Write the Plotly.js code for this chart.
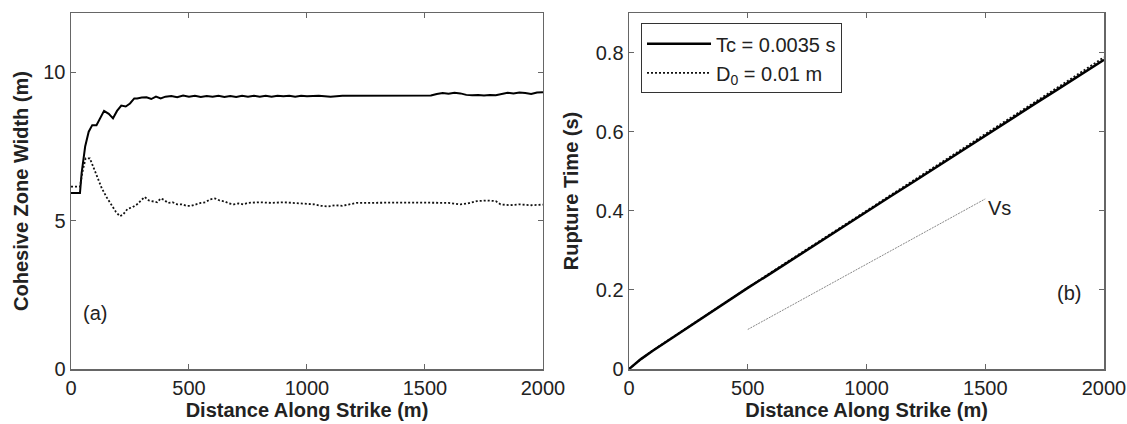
<!DOCTYPE html>
<html>
<head>
<meta charset="utf-8">
<script src="https://cdn.plot.ly/plotly-3.0.1.min.js"></script>
<style>html,body{margin:0;padding:0;background:#fff;}#chart{width:1127px;height:424px;}</style>
</head>
<body>
<div id="chart"></div>
<script>
// ---- Panel (a): cohesive zone width ----
const tcX = [0,38,45,60,75,90,108,125,140,160,178,195,213,232,250,268,280,300,320,340,360,380,400,425,450,475,500,525,550,575,600,625,650,675,700,725,750,775,800,825,850,875,900,925,950,975,1000,1050,1100,1150,1200,1250,1300,1350,1400,1450,1500,1525,1550,1575,1600,1625,1650,1675,1700,1725,1750,1775,1800,1825,1850,1875,1900,1925,1950,1975,2000];
const tcW = [5.93,5.93,6.6,7.5,8.0,8.22,8.22,8.5,8.7,8.6,8.45,8.7,8.88,8.85,8.95,9.12,9.12,9.15,9.16,9.1,9.18,9.12,9.18,9.2,9.16,9.22,9.18,9.21,9.17,9.2,9.18,9.21,9.17,9.2,9.17,9.21,9.18,9.21,9.18,9.21,9.18,9.21,9.19,9.21,9.18,9.21,9.19,9.21,9.18,9.21,9.21,9.21,9.21,9.21,9.21,9.21,9.21,9.22,9.27,9.3,9.28,9.31,9.29,9.24,9.23,9.24,9.22,9.24,9.23,9.28,9.31,9.29,9.32,9.3,9.27,9.32,9.33];

const d0X = [0,38,50,62,80,95,110,130,150,170,190,207,220,240,260,280,300,312,330,350,365,380,395,410,430,450,470,490,510,530,550,570,590,610,630,650,670,690,710,730,750,800,850,900,950,1000,1030,1060,1090,1120,1150,1180,1210,1250,1300,1350,1400,1450,1500,1550,1600,1650,1680,1720,1760,1800,1820,1860,1900,1950,2000];
const d0W = [6.15,6.15,6.7,7.1,7.1,6.8,6.5,6.1,5.8,5.55,5.3,5.15,5.2,5.4,5.45,5.55,5.7,5.8,5.68,5.65,5.62,5.75,5.7,5.6,5.62,5.55,5.55,5.5,5.5,5.55,5.6,5.62,5.72,5.75,5.68,5.65,5.58,5.55,5.58,5.55,5.6,5.62,5.6,5.62,5.6,5.58,5.55,5.5,5.48,5.52,5.5,5.55,5.6,5.6,5.61,5.61,5.61,5.61,5.6,5.61,5.6,5.55,5.58,5.66,5.68,5.66,5.55,5.52,5.55,5.52,5.54];

// ---- Panel (b): rupture time ----
const rtX = [0,50,100,150,200,300,400,500,600,700,800,900,1000,1100,1200,1300,1400,1500,1600,1700,1800,1900,2000];
const rtTc = [0,0.025,0.046,0.066,0.085,0.125,0.165,0.205,0.243,0.282,0.320,0.359,0.397,0.436,0.474,0.513,0.551,0.590,0.628,0.667,0.705,0.744,0.782];
const rtD0 = [0,0.025,0.047,0.067,0.086,0.126,0.166,0.206,0.245,0.284,0.322,0.361,0.400,0.439,0.477,0.516,0.555,0.594,0.632,0.671,0.710,0.749,0.788];
const vsX = [500,1500];
const vsT = [0.1,0.43];

const nameTc = 'Tc = 0.0035 s';
const nameD0 = 'D<sub>0</sub> = 0.01 m';

const FONT = 'Liberation Sans, Arial, Helvetica, sans-serif';

const traces = [
  {x: tcX, y: tcW, xaxis:'x', yaxis:'y', mode:'lines', line:{color:'#000', width:2}, showlegend:false, hoverinfo:'skip'},
  {x: d0X, y: d0W, xaxis:'x', yaxis:'y', mode:'lines', line:{color:'#111', width:1.8, dash:'2px,2px'}, showlegend:false, hoverinfo:'skip'},
  {x: vsX, y: vsT, xaxis:'x2', yaxis:'y2', mode:'lines', line:{color:'#888', width:1, dash:'2px,1px'}, showlegend:false, hoverinfo:'skip'},
  {x: rtX, y: rtD0, xaxis:'x2', yaxis:'y2', mode:'lines', name:nameD0, line:{color:'#111', width:1.8, dash:'2px,2px'}, hoverinfo:'skip'},
  {x: rtX, y: rtTc, xaxis:'x2', yaxis:'y2', mode:'lines', name:nameTc, line:{color:'#000', width:2.5}, hoverinfo:'skip'}
];

const axCommon = {
  showline:true, linecolor:'#666', linewidth:1.5, mirror:'ticks',
  ticks:'inside', ticklen:5, tickcolor:'#666', tickwidth:1,
  showgrid:false, zeroline:false, automargin:false,
  tickfont:{family:FONT, size:20, color:'#222'}
};
const titleFont = {family:FONT, size:20, color:'#222', weight:'bold'};

const layout = {
  width:1127, height:424,
  margin:{l:71, r:23, t:13, b:55},
  paper_bgcolor:'#fff', plot_bgcolor:'#fff',
  font:{family:FONT, size:20, color:'#222'},
  xaxis: Object.assign({}, axCommon, {domain:[0,0.4569], range:[0,2000], tickvals:[0,500,1000,1500,2000],
     title:{text:'<b>Distance Along Strike (m)</b>', font:titleFont, standoff:3}}),
  yaxis: Object.assign({}, axCommon, {domain:[0,1], range:[0,12], tickvals:[0,5,10],
     title:{text:'<b>Cohesive Zone Width (m)</b>', font:titleFont, standoff:9}}),
  xaxis2: Object.assign({}, axCommon, {domain:[0.5402,1], range:[0,2000], tickvals:[0,500,1000,1500,2000], anchor:'y2',
     title:{text:'<b>Distance Along Strike (m)</b>', font:titleFont, standoff:3}}),
  yaxis2: Object.assign({}, axCommon, {domain:[0,1], range:[0,0.9], tickvals:[0,0.2,0.4,0.6,0.8], anchor:'x2',
     title:{text:'<b>Rupture Time (s)</b>', font:titleFont, standoff:11}}),
  legend:{x:0.5518, y:0.971, xanchor:'left', yanchor:'top', bordercolor:'#333', borderwidth:1,
     bgcolor:'#fff', font:{family:FONT, size:20, color:'#222'}, traceorder:'reversed', itemwidth:64,
     tracegroupgap:0},
  annotations:[
    {xref:'x', yref:'y', x:103, y:1.9, text:'(a)', showarrow:false, xanchor:'center', yanchor:'middle', font:{family:FONT, size:20, color:'#222'}},
    {xref:'x2', yref:'y2', x:1853, y:0.193, text:'(b)', showarrow:false, xanchor:'center', yanchor:'middle', font:{family:FONT, size:20, color:'#222'}},
    {xref:'x2', yref:'y2', x:1504, y:0.406, text:'Vs', showarrow:false, xanchor:'left', yanchor:'middle', font:{family:FONT, size:20, color:'#222'}}
  ]
};

Plotly.newPlot('chart', traces, layout, {staticPlot:true, displayModeBar:false});
</script>
</body>
</html>
